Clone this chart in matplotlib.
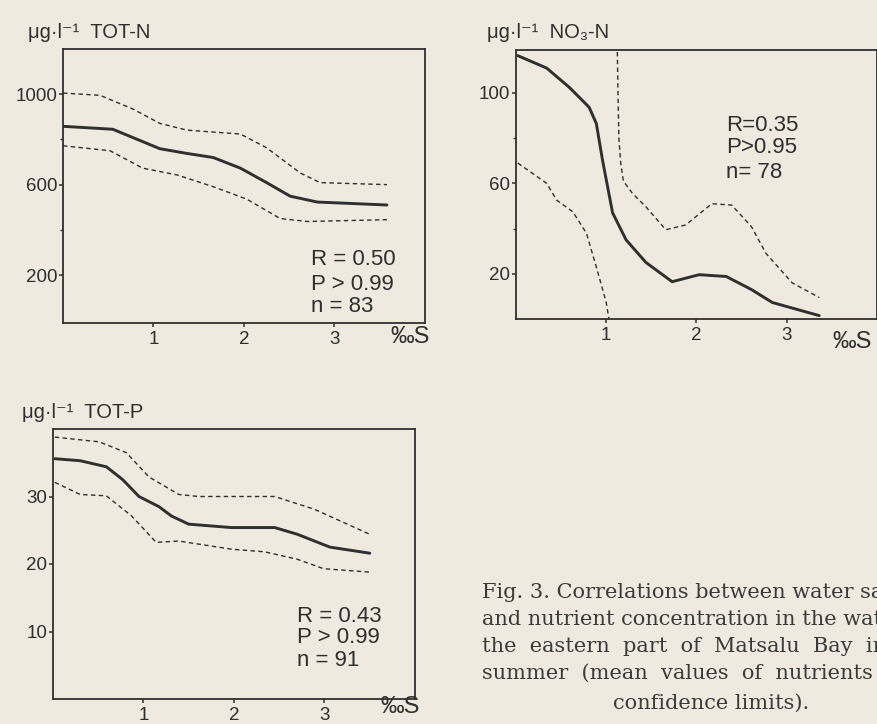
import numpy as np
import matplotlib
matplotlib.use("Agg")
import matplotlib.pyplot as plt

# =========================
# DATA
# =========================

# salinity (per mille) and concentrations, ug/l
totn_x = [0.0, 0.55, 1.07, 1.37, 1.66, 1.96, 2.25, 2.51, 2.81, 3.58]
totn_mean = [858, 845, 759, 738, 720, 673, 609, 549, 523, 510]
totn_up_x = [0.0, 0.41, 0.77, 1.07, 1.37, 1.96, 2.25, 2.62, 2.84, 3.58]
totn_up = [1005, 995, 935, 871, 841, 824, 763, 652, 609, 600]
totn_lo_x = [0.0, 0.52, 0.88, 1.26, 1.66, 2.03, 2.40, 2.70, 3.58]
totn_lo = [772, 750, 673, 643, 591, 536, 450, 437, 445]

no3_x = [0.02, 0.34, 0.59, 0.81, 0.89, 0.96, 1.07, 1.22, 1.44, 1.73,
         2.03, 2.33, 2.61, 2.84, 3.36]
no3_mean = [116.5, 111, 102.5, 93.7, 86.5, 70, 47, 35, 25, 16.5,
            19.6, 18.8, 13, 7.3, 1.5]
no3_up_x = [1.12, 1.13, 1.14, 1.16, 1.19, 1.29, 1.44, 1.66, 1.88, 2.17,
            2.39, 2.61, 2.77, 3.06, 3.36]
no3_up = [125, 100, 80, 69, 61, 55.6, 49.6, 39.5, 41.6, 51,
          50.4, 40.8, 29, 16, 9.5]
no3_lo_x = [0.02, 0.34, 0.45, 0.63, 0.78, 0.89, 1.0, 1.03]
no3_lo = [69, 60, 52.6, 47.4, 38, 23, 7.3, 0]

totp_x = [0.02, 0.30, 0.59, 0.77, 0.95, 1.17, 1.31, 1.50, 1.97, 2.45,
          2.70, 3.06, 3.50]
totp_mean = [35.6, 35.3, 34.4, 32.5, 30.0, 28.5, 27.1, 25.9, 25.4, 25.4,
             24.4, 22.5, 21.6]
totp_up_x = [0.02, 0.51, 0.81, 1.06, 1.39, 1.61, 2.45, 2.89, 3.50]
totp_up = [38.8, 38.1, 36.5, 32.9, 30.3, 30.0, 30.0, 28.1, 24.4]
totp_lo_x = [0.02, 0.30, 0.59, 0.87, 1.14, 1.39, 1.97, 2.34, 2.70, 2.99, 3.50]
totp_lo = [32.1, 30.3, 30.1, 27.1, 23.2, 23.4, 22.2, 21.8, 20.7, 19.3, 18.8]

stats_totn = ["R = 0.50", "P > 0.99", "n = 83"]
stats_no3 = ["R=0.35", "P>0.95", "n= 78"]
stats_totp = ["R = 0.43", "P > 0.99", "n = 91"]

# caption runs off the right edge of the scan, as in the original
caption = [
    "Fig. 3. Correlations between water salinity",
    "and nutrient concentration in the water of",
    "the  eastern  part  of  Matsalu  Bay  in",
    "summer  (mean  values  of  nutrients  with",
]
caption_last = "confidence limits)."

# =========================
# STYLE
# =========================

PAPER = "#eeeadf"
INK = "#2f2f2f"
HAND = ["Liberation Sans", "DejaVu Sans"]

W, H = 878, 724
fig = plt.figure(figsize=(W / 100, H / 100), dpi=100, facecolor=PAPER)


def px_axes(left, top, right, bottom):
    return fig.add_axes([left / W, 1 - bottom / H, (right - left) / W, (bottom - top) / H])


def style_axes(ax, yticks, ylim, minor=None):
    ax.set_facecolor("none")
    ax.set_xlim(0, 4)
    ax.set_ylim(*ylim)
    for s in ax.spines.values():
        s.set_color(INK)
        s.set_linewidth(1.3)
    ax.set_xticks([1, 2, 3])
    ax.set_yticks(yticks)
    if minor:
        ax.set_yticks(minor, minor=True)
    ax.tick_params(axis="both", direction="out", length=3, width=1.1,
                   color=INK, labelcolor=INK, labelsize=13.5, pad=1)
    ax.tick_params(axis="y", which="minor", direction="out", length=2, width=1, color=INK)
    ax.tick_params(axis="x", pad=3)
    for lab in ax.get_xticklabels() + ax.get_yticklabels():
        lab.set_family(HAND)


def draw_panel(ax, x, mean, ux, up, lx, lo):
    ax.plot(x, mean, color=INK, lw=2.1, solid_capstyle="round")
    ax.plot(ux, up, color=INK, lw=1.0, dashes=(3.2, 2.4))
    ax.plot(lx, lo, color=INK, lw=1.0, dashes=(3.2, 2.4))


def stats_text(ax, lines, x, ys):
    for txt, y in zip(lines, ys):
        ax.text(x, y, txt, transform=ax.transAxes, ha="left", va="center",
                fontsize=16, color=INK, family=HAND)


# =========================
# PANEL 1 - TOT-N
# =========================

ax1 = px_axes(63, 49, 425, 323)
style_axes(ax1, [200, 600, 1000], (-12, 1200), minor=[400, 800])
draw_panel(ax1, totn_x, totn_mean, totn_up_x, totn_up, totn_lo_x, totn_lo)
stats_text(ax1, stats_totn, 0.684, [0.23, 0.14, 0.06])
ax1.text(0.96, -0.05, "‰S", transform=ax1.transAxes, ha="center", va="center",
         fontsize=17, color=INK, family=HAND)
fig.text(28 / W, 1 - 33 / H, "μg·l⁻¹  TOT-N", ha="left", va="center",
         fontsize=14.5, color=INK, family=HAND)

# =========================
# PANEL 2 - NO3-N
# =========================

ax2 = px_axes(516, 50, 877, 319)
style_axes(ax2, [20, 60, 100], (0, 119), minor=[40, 80])
draw_panel(ax2, no3_x, no3_mean, no3_up_x, no3_up, no3_lo_x, no3_lo)
stats_text(ax2, stats_no3, 0.583, [0.721, 0.636, 0.546])
ax2.text(0.93, -0.085, "‰S", transform=ax2.transAxes, ha="center", va="center",
         fontsize=17, color=INK, family=HAND)
fig.text(487 / W, 1 - 33 / H, "μg·l⁻¹  NO₃-N", ha="left", va="center",
         fontsize=14.5, color=INK, family=HAND)

# =========================
# PANEL 3 - TOT-P
# =========================

ax3 = px_axes(53, 429, 415, 699)
style_axes(ax3, [10, 20, 30], (0, 40))
draw_panel(ax3, totp_x, totp_mean, totp_up_x, totp_up, totp_lo_x, totp_lo)
stats_text(ax3, stats_totp, 0.674, [0.304, 0.226, 0.144])
ax3.text(0.958, -0.03, "‰S", transform=ax3.transAxes, ha="center", va="center",
         fontsize=17, color=INK, family=HAND)
fig.text(22 / W, 1 - 412 / H, "μg·l⁻¹  TOT-P", ha="left", va="center",
         fontsize=14.5, color=INK, family=HAND)

# =========================
# CAPTION
# =========================

for i, line in enumerate(caption):
    fig.text(482 / W, 1 - (593 + 26.7 * i) / H, line, ha="left", va="center",
             fontsize=15, color="#3a3a3a", family="DejaVu Serif")
fig.text(613 / W, 1 - 703 / H, caption_last, ha="left", va="center",
         fontsize=15, color="#3a3a3a", family="DejaVu Serif")

fig.savefig("out.png", dpi=100, facecolor=PAPER)
